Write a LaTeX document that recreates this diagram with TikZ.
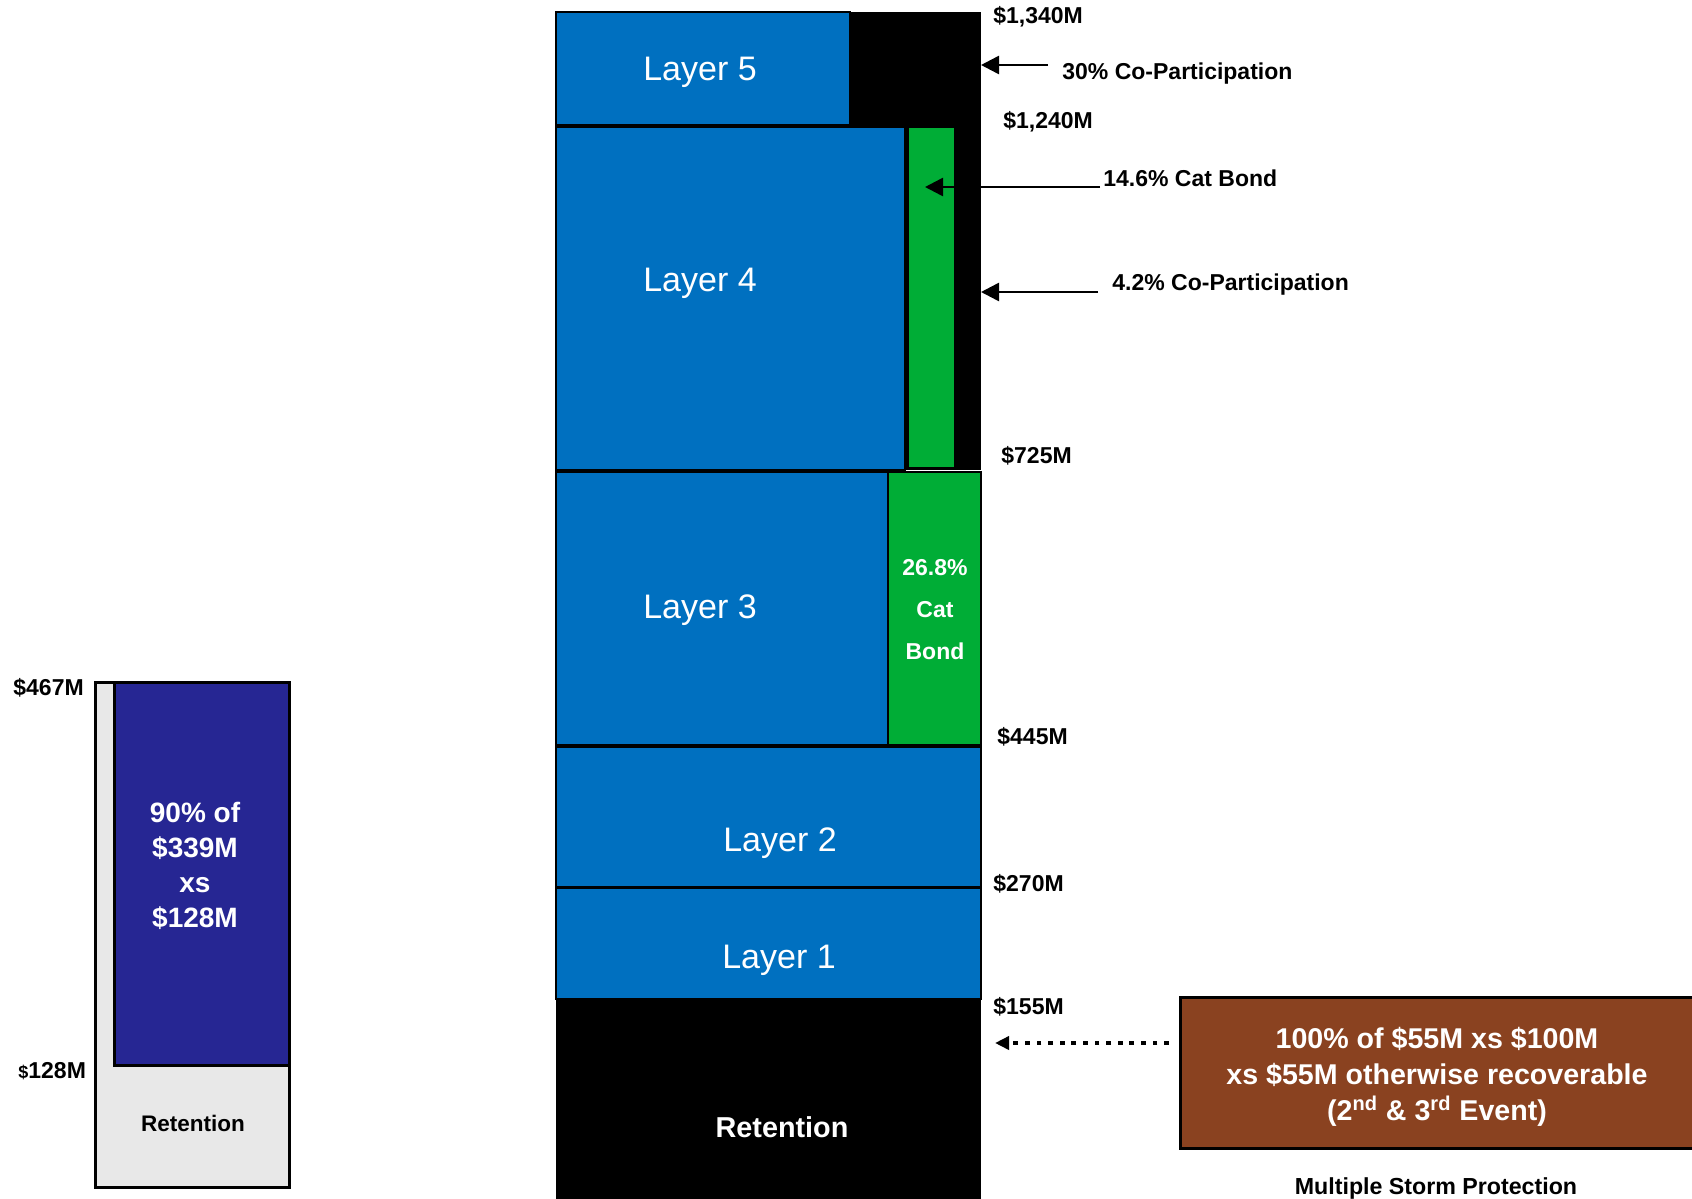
\documentclass[tikz,border=0pt]{standalone}
\usepackage{fontspec}
\setmainfont{Liberation Sans}
\usetikzlibrary{arrows.meta, calc}
\definecolor{LBlue}{HTML}{0070C0}
\definecolor{CGreen}{HTML}{00AD36}
\definecolor{DBlue}{HTML}{262693}
\definecolor{Brown}{HTML}{8A4220}
\definecolor{LGray}{HTML}{E8E8E8}
\tikzset{
    band/.style={draw=black, line width=1.1pt},
    bandtext/.style={white, font=\fontsize{17}{20}\selectfont},
    amount/.style={anchor=west, inner sep=0pt, font=\bfseries\fontsize{11.5}{14}\selectfont},
    ptr/.style={line width=1.3pt, -{Triangle[length=9pt, width=9pt]}},
    dotptr/.style={line width=2.4pt, dash pattern=on 2.4pt off 3.4pt, -{Triangle[length=7pt, width=6.5pt]}},
}
\NewDocumentCommand{\DrawBand}{m m O{LBlue}}{
    \draw[band, fill=#3] (#1) rectangle (#2);
}
\begin{document}
\begin{tikzpicture}[x=0.5pt, y=-0.5pt]

    \useasboundingbox (0,0) rectangle (1692,1199);

    % tower
    \fill[black] (556,12) rectangle (981,470);
    \DrawBand{556,12}{850,125}
    \DrawBand{556,127}{905,470}
    \DrawBand{908,127}{955,468}[CGreen]
    \DrawBand{556,472}{888,745}
    \DrawBand{888,472}{981,745}[CGreen]
    \DrawBand{556,747}{981,887}
    \DrawBand{556,888}{981,999}
    \fill[black] (556,999) rectangle (981,1210);

    \node[bandtext] (l5) at (700,72) {Layer 5};
    \node[bandtext] (l4) at (700,283) {Layer 4};
    \node[bandtext] (l3) at (700,610) {Layer 3};
    \node[bandtext] (l2) at (780,843) {Layer 2};
    \node[bandtext] (l1) at (779,960) {Layer 1};
    \node[white, font=\bfseries\fontsize{14.4}{17}\selectfont] (ret) at (782,1127) {Retention};
    \node[white, align=center, font=\bfseries\fontsize{11.5}{21}\selectfont] (cb268) at (935,610) {26.8\%\\Cat\\Bond};

    % amounts
    \node[amount] (a1340) at (993,17) {\$1,340M};
    \node[amount] (a1240) at (1003,122) {\$1,240M};
    \node[amount] (a725) at (1001,456) {\$725M};
    \node[amount] (a445) at (997,737) {\$445M};
    \node[amount] (a270) at (993,884) {\$270M};
    \node[amount] (a155) at (993,1007) {\$155M};

    % callouts
    \node[amount] (cp30) at (1062,74) {30\% Co-Participation};
    \node[amount] (cb146) at (1103,178) {14.6\% Cat Bond};
    \node[amount] (cp42) at (1112,285) {4.2\% Co-Participation};
    \coordinate (cp30tail) at (1048,65);
    \coordinate (cp30tip) at (981,65);
    \coordinate (cb146tail) at (1100,187);
    \coordinate (cb146tip) at (925,187);
    \coordinate (cp42tail) at (1098,292);
    \coordinate (cp42tip) at (981,292);
    \draw[ptr] (cp30tail) -- (cp30tip);
    \draw[ptr] (cb146tail) -- (cb146tip);
    \draw[ptr] (cp42tail) -- (cp42tip);

    % multiple storm protection
    \draw[fill=Brown, line width=1.5pt] (1180,997) rectangle (1710,1148);
    \node[white, align=center, font=\bfseries\fontsize{14.3}{18}\selectfont] (msp) at (1437,1077)
        {100\% of \$55M xs \$100M\\xs \$55M otherwise recoverable\\(2\textsuperscript{nd} \& 3\textsuperscript{rd} Event)};
    \node[font=\bfseries\fontsize{11.6}{14}\selectfont] (msplabel) at (1436,1188) {Multiple Storm Protection};
    \coordinate (msptail) at (1169,1043);
    \coordinate (msptip) at (995,1043);
    \draw[dotptr] (msptail) -- (msptip);

    % left tower
    \draw[fill=LGray, line width=1.5pt] (95,682) rectangle (289,1187);
    \draw[fill=DBlue, line width=1.5pt] (114,682) rectangle (289,1065);
    \node[white, align=center, font=\bfseries\fontsize{14}{17.5}\selectfont] (qs) at (195,866)
        {90\% of\\\$339M\\xs\\\$128M};
    \node[font=\bfseries\fontsize{11.25}{14}\selectfont] (lret) at (193,1123) {Retention};
    \node[amount] (a467) at (13,688) {\$467M};
    \node[amount] (a128) at (18,1071) {{\fontsize{9}{10}\selectfont\$}128M};

\end{tikzpicture}
\end{document}
